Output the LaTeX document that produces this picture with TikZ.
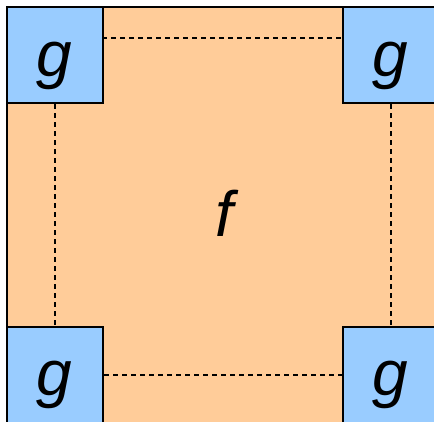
\documentclass[tikz,border=0pt]{standalone}
\usepackage{fontspec}
\setmainfont{Liberation Sans}
\definecolor{orangebg}{RGB}{255,204,153}
\definecolor{bluebox}{RGB}{153,204,255}
\begin{document}
\begin{tikzpicture}[x=1pt,y=-1pt,
  gbox/.style={draw=black,line width=2pt,fill=bluebox,minimum size=96pt,inner sep=0pt},
  glabel/.style={font=\fontsize{64}{64}\selectfont\itshape,inner sep=0pt},
  dline/.style={line width=1.5pt,dash pattern=on 5pt off 4pt}]
\useasboundingbox (0,0) rectangle (434,421);
\begin{scope}
\clip (0,0) rectangle (434,421);
\node[draw=black,line width=2pt,fill=orangebg,minimum size=432pt,inner sep=0pt,anchor=north west] (bg) at (6,6) {};
\node[glabel] (f) at (224,213) {f};
\node[gbox,anchor=north west] (tl) at (6,6) {};
\node[gbox,anchor=north west] (tr) at (342,6) {};
\node[gbox,anchor=north west] (bl) at (6,326) {};
\node[gbox,anchor=north west] (br) at (342,326) {};
\node[glabel] (gtl) at (54,66) {g};
\node[glabel] (gtr) at (390,66) {g};
\node[glabel] (gbl) at (54,385) {g};
\node[glabel] (gbr) at (390,385) {g};
\coordinate (t1) at (102,38);
\coordinate (t2) at (342,38);
\draw[dline] (t1) -- (t2);
\draw[dline] (tl.south) -- (bl.north);
\draw[dline] (tr.south) -- (br.north);
\draw[dline] (bl.east) -- (br.west);
\end{scope}
\end{tikzpicture}
\end{document}
